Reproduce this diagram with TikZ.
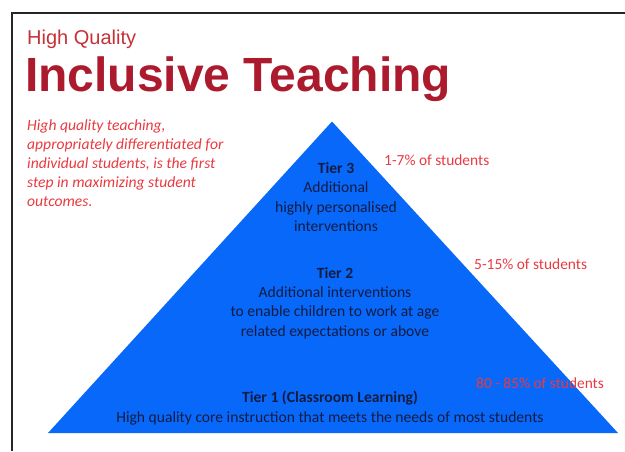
\documentclass[tikz,border=0pt]{standalone}
\usepackage{fontspec}
\setmainfont{Carlito}
\newfontfamily\titlefont{Liberation Sans}
\usepackage{tikz}
\usetikzlibrary{positioning, calc}

\definecolor{titlered}{RGB}{172,26,46}
\definecolor{notered}{RGB}{232,58,64}
\definecolor{pyrblue}{RGB}{8,104,250}
\definecolor{tiertext}{RGB}{18,28,66}

\begin{document}
\begin{tikzpicture}[x=1pt,y=-1pt]
	\def \rowtierthree{197}
	\def \rowtiertwo{303}
	\def \rowtierone{408}
	\tikzstyle{tier-node}=[text centered, align=center, text=tiertext, font=\fontsize{15.6}{19.4}\selectfont, inner sep=0pt]
	\tikzstyle{pct-node}=[anchor=west, text=notered, font=\fontsize{15.4}{18}\selectfont, inner sep=0pt]
	\tikzstyle{note-node}=[anchor=north west, align=left, text=notered, font=\fontsize{15.6}{19}\selectfont\itshape, inner sep=0pt]
	\useasboundingbox (0,0) rectangle (625,451);

	% frame
	\coordinate (fr0) at (11.5,451);
	\coordinate (fr1) at (11.5,12.5);
	\coordinate (fr2) at (625,12.5);
	\draw[line width=2pt, black!85] (fr0) -- (fr1) -- (fr2);

	% heading
	\node[anchor=base west, inner sep=0pt, text=notered!85!black, font=\titlefont\fontsize{20}{24}\selectfont] (sub) at (27,44) {High Quality};
	\node[anchor=base west, inner sep=0pt, text=titlered, font=\titlefont\bfseries\fontsize{48}{52}\selectfont] (title) at (25,91) {Inclusive Teaching};
	\node[note-node] (note) at (27,119) {High quality teaching,\\appropriately differentiated for\\individual students, is the first\\step in maximizing student\\outcomes.};

	% pyramid
	\coordinate (apex) at (332,121.5);
	\coordinate (bl) at (48,433);
	\coordinate (br) at (618,433);
	\fill[pyrblue] (apex) -- (bl) -- (br) -- cycle;

	% tiers
	\node[tier-node] (tier3) at (336,\rowtierthree) {\textbf{Tier 3}\\Additional\\highly personalised\\interventions};
	\node[tier-node] (tier2) at (335,\rowtiertwo) {\textbf{Tier 2}\\Additional interventions\\to enable children to work at age\\related expectations or above};
	\node[tier-node] (tier1) at (330,\rowtierone) {\textbf{Tier 1 (Classroom Learning)}\\High quality core instruction that meets the needs of most students};

	% shares
	\node[pct-node] (pct3) at (384,160) {1-7\% of students};
	\node[pct-node] (pct2) at (474,264) {5-15\% of students};
	\node[pct-node] (pct1) at (476,383) {80 - 85\% of students};
\end{tikzpicture}
\end{document}
